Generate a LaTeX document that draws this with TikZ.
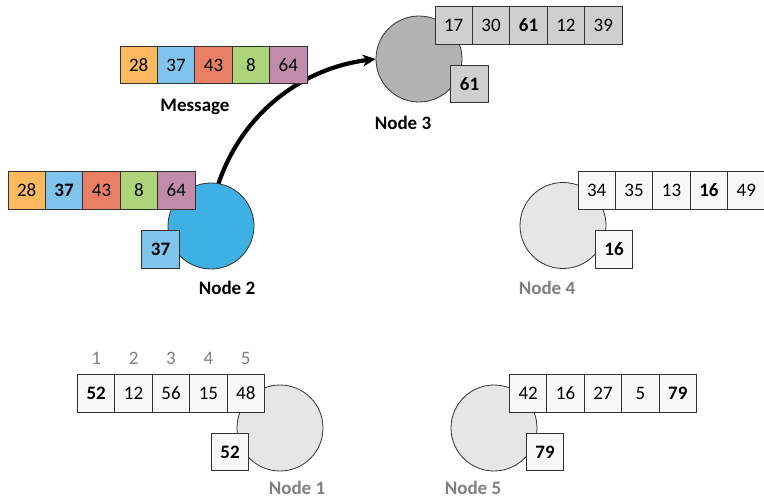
\documentclass[tikz,border=0pt]{standalone}
\usepackage{fontspec}
\setmainfont{Carlito}
\usetikzlibrary{arrows.meta}
\definecolor{corange}{RGB}{253,185,95}
\definecolor{cblue}{RGB}{127,196,236}
\definecolor{csalmon}{RGB}{233,128,102}
\definecolor{cgreen}{RGB}{174,212,121}
\definecolor{cmauve}{RGB}{192,140,170}
\definecolor{cnodeblue}{RGB}{62,176,228}
\definecolor{cdark}{RGB}{178,178,178}
\definecolor{cdarkcell}{RGB}{207,207,207}
\definecolor{clight}{RGB}{230,230,230}
\definecolor{clightcell}{RGB}{248,248,248}
\definecolor{cgraytext}{RGB}{128,128,128}
\definecolor{cedge}{RGB}{50,50,50}
\tikzset{
  cell/.style={draw=cedge, line width=0.9pt, minimum width=37.4pt, minimum height=37.4pt, inner sep=0pt, font=\fontsize{19}{21}\selectfont},
  peer/.style={circle, draw=black!80, line width=0.8pt, minimum size=86pt, inner sep=0pt},
  lbl/.style={font=\fontsize{19}{21}\selectfont\bfseries},
  idx/.style={text=cgraytext, font=\fontsize{19}{21}\selectfont},
}
\begin{document}
\begin{tikzpicture}[x=1pt,y=-1pt]
\useasboundingbox (0,0) rectangle (764,498);
% arrow (behind message)
\node[peer, fill=cnodeblue] (n2) at (211,226) {};
\node[peer, fill=cdark] (n3) at (419,59) {};
\draw[line width=4.2pt, -{Stealth[length=13pt,width=12pt]}] (n2.80) .. controls (243,112) and (303,68) .. (n3.west);
% Message
\node[cell, fill=corange] (m1) at (138.7,65) {28};
\node[cell, fill=cblue] (m2) at (176.1,65) {37};
\node[cell, fill=csalmon] (m3) at (213.5,65) {43};
\node[cell, fill=cgreen] (m4) at (250.9,65) {8};
\node[cell, fill=cmauve] (m5) at (288.3,65) {64};
\node[lbl] (mlbl) at (195,107) {Message};
% Node 2
\node[cell, fill=corange] (a21) at (26.7,190.5) {28};
\node[cell, fill=cblue] (a22) at (64.1,190.5) {\textbf{37}};
\node[cell, fill=csalmon] (a23) at (101.5,190.5) {43};
\node[cell, fill=cgreen] (a24) at (138.9,190.5) {8};
\node[cell, fill=cmauve] (a25) at (176.3,190.5) {64};
\node[cell, fill=cblue] (s2) at (160.5,249.5) {\textbf{37}};
\node[lbl] (l2) at (227,288) {Node 2};
% Node 3
\node[cell, fill=cdarkcell] (a31) at (453.7,25.5) {17};
\node[cell, fill=cdarkcell] (a32) at (491.1,25.5) {30};
\node[cell, fill=cdarkcell] (a33) at (528.5,25.5) {\textbf{61}};
\node[cell, fill=cdarkcell] (a34) at (565.9,25.5) {12};
\node[cell, fill=cdarkcell] (a35) at (603.3,25.5) {39};
\node[cell, fill=cdarkcell] (s3) at (469.5,84) {\textbf{61}};
\node[lbl] (l3) at (403,123) {Node 3};
% Node 4
\node[peer, fill=clight] (n4) at (563,225.5) {};
\node[cell, fill=clightcell] (a41) at (596.7,190.5) {34};
\node[cell, fill=clightcell] (a42) at (634.1,190.5) {35};
\node[cell, fill=clightcell] (a43) at (671.5,190.5) {13};
\node[cell, fill=clightcell] (a44) at (708.9,190.5) {\textbf{16}};
\node[cell, fill=clightcell] (a45) at (746.3,190.5) {49};
\node[cell, fill=clightcell] (s4) at (614,249.5) {\textbf{16}};
\node[lbl, text=cgraytext] (l4) at (547,288) {Node 4};
% Node 1
\node[peer, fill=clight] (n1) at (280,428) {};
\node[cell, fill=clightcell] (a11) at (96.2,393.5) {\textbf{52}};
\node[cell, fill=clightcell] (a12) at (133.6,393.5) {12};
\node[cell, fill=clightcell] (a13) at (171,393.5) {56};
\node[cell, fill=clightcell] (a14) at (208.4,393.5) {15};
\node[cell, fill=clightcell] (a15) at (245.8,393.5) {48};
\node[idx] (i1) at (96.2,358) {1};
\node[idx] (i2) at (133.6,358) {2};
\node[idx] (i3) at (171,358) {3};
\node[idx] (i4) at (208.4,358) {4};
\node[idx] (i5) at (245.8,358) {5};
\node[cell, fill=clightcell] (s1) at (230,452) {\textbf{52}};
\node[lbl, text=cgraytext] (l1) at (297,488) {Node 1};
% Node 5
\node[peer, fill=clight] (n5) at (494,428) {};
\node[cell, fill=clightcell] (a51) at (528.2,393.5) {42};
\node[cell, fill=clightcell] (a52) at (565.6,393.5) {16};
\node[cell, fill=clightcell] (a53) at (603,393.5) {27};
\node[cell, fill=clightcell] (a54) at (640.4,393.5) {5};
\node[cell, fill=clightcell] (a55) at (677.8,393.5) {\textbf{79}};
\node[cell, fill=clightcell] (s5) at (545,452) {\textbf{79}};
\node[lbl, text=cgraytext] (l5) at (473,488) {Node 5};
\end{tikzpicture}
\end{document}
